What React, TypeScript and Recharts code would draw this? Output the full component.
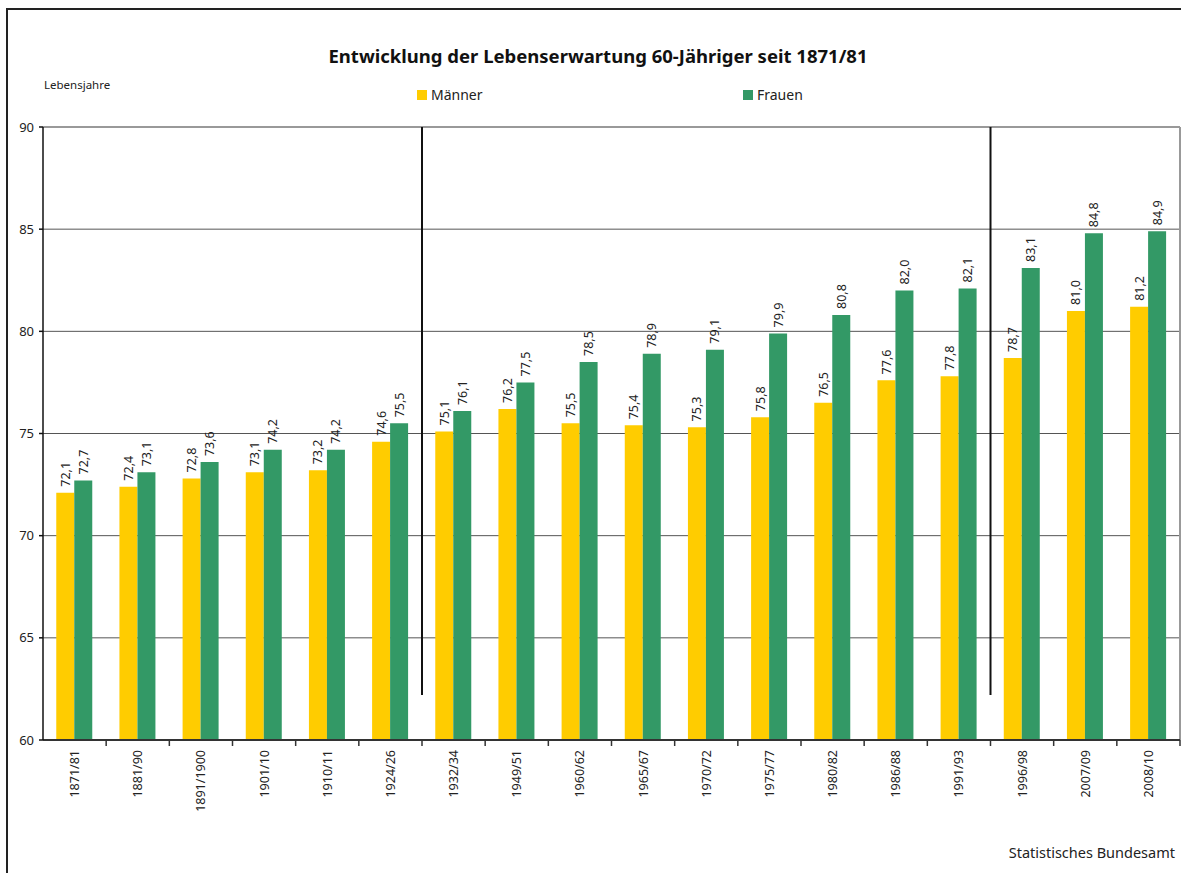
import React from 'react';
import { BarChart, Bar, XAxis, YAxis, CartesianGrid, ReferenceLine, LabelList } from 'recharts';

const categories = ['1871/81', '1881/90', '1891/1900', '1901/10', '1910/11', '1924/26', '1932/34', '1949/51', '1960/62', '1965/67', '1970/72', '1975/77', '1980/82', '1986/88', '1991/93', '1996/98', '2007/09', '2008/10'];
const maenner = [72.1, 72.4, 72.8, 73.1, 73.2, 74.6, 75.1, 76.2, 75.5, 75.4, 75.3, 75.8, 76.5, 77.6, 77.8, 78.7, 81.0, 81.2];
const frauen = [72.7, 73.1, 73.6, 74.2, 74.2, 75.5, 76.1, 77.5, 78.5, 78.9, 79.1, 79.9, 80.8, 82.0, 82.1, 83.1, 84.8, 84.9];
const yTicks = [60, 65, 70, 75, 80, 85, 90];
const dividers = ['1932/34', '1996/98'];

const data = categories.map((c, i) => ({ period: c, m: maenner[i], f: frauen[i] }));

const FONT = '"Noto Sans", "DejaVu Sans", sans-serif';
const YELLOW = '#FFCC00';
const GREEN = '#339966';

const fmt = (v: number) => v.toFixed(1).replace('.', ',');

const BarLabel = (props: any) => {
  const { x, y, width, value } = props;
  const cx = Number(x) + Number(width) / 2;
  const cy = Number(y) - 6;
  return (
    <text x={cx} y={cy} transform={`rotate(-90, ${cx}, ${cy})`} textAnchor="start" dominantBaseline="central" fontSize={12.5} fill="#222" fontFamily={FONT}>
      {fmt(Number(value))}
    </text>
  );
};

const XTick = (props: any) => {
  const { x, y, payload } = props;
  const off = payload && payload.offset ? payload.offset : 31.6;
  const tx = Number(x);
  const ty = Number(y) + 10;
  return (
    <g>
      <line x1={tx + off} y1={y} x2={tx + off} y2={Number(y) + 6} stroke="#333" strokeWidth={1.5} />
      <text x={tx} y={ty} transform={`rotate(-90, ${tx}, ${ty})`} textAnchor="end" dominantBaseline="central" fontSize={12.5} fill="#222" fontFamily={FONT}>
        {payload.value}
      </text>
    </g>
  );
};

export default function App() {
  return (
    <div style={{ position: 'absolute', left: 0, top: 0, width: 1181, height: 873, background: '#fff', overflow: 'hidden' }}>
      <div style={{ position: 'absolute', left: 6, top: 8, width: 1181, height: 873, borderLeft: '2px solid #222', borderTop: '2px solid #222' }} />
      <div style={{ position: 'absolute', left: 0, width: 1196, top: 43, textAlign: 'center', fontFamily: FONT, fontWeight: 700, fontSize: 18.5, color: '#111' }}>
        Entwicklung der Lebenserwartung 60-Jähriger seit 1871/81
      </div>
      <div style={{ position: 'absolute', left: 44, top: 77, fontFamily: FONT, fontSize: 11.5, color: '#222' }}>Lebensjahre</div>
      <div style={{ position: 'absolute', left: 0, top: 86, width: 1181, height: 20, fontFamily: FONT, fontSize: 14, color: '#222' }}>
        <div style={{ position: 'absolute', left: 417, top: 4, width: 10, height: 10, background: YELLOW }} />
        <div style={{ position: 'absolute', left: 431, top: -1 }}>Männer</div>
        <div style={{ position: 'absolute', left: 743, top: 4, width: 10, height: 10, background: GREEN }} />
        <div style={{ position: 'absolute', left: 757, top: -1 }}>Frauen</div>
      </div>
      <div style={{ position: 'absolute', right: 6, top: 842, fontFamily: FONT, fontSize: 14.5, color: '#222' }}>Statistisches Bundesamt</div>
      <BarChart
        width={1181}
        height={873}
        data={data}
        margin={{ top: 127, right: 1, bottom: 0, left: 0 }}
        barCategoryGap="21%"
        barGap={0}
        style={{ position: 'absolute', left: 0, top: 0 }}
      >
        <CartesianGrid vertical={false} stroke="#555" strokeWidth={1} />
        <XAxis
          dataKey="period"
          height={133}
          interval={0}
          tickSize={0}
          tickMargin={0}
          tickLine={false}
          tick={<XTick />}
          axisLine={{ stroke: '#333', strokeWidth: 2 }}
        />
        <YAxis
          width={43}
          domain={[60, 90]}
          ticks={yTicks}
          allowDataOverflow
          tickSize={4}
          tickMargin={5}
          tick={{ fontSize: 13, fill: '#222', fontFamily: FONT }}
          tickLine={{ stroke: '#111', strokeWidth: 1.5 }}
          axisLine={{ stroke: '#111', strokeWidth: 1.5 }}
        />
        <ReferenceLine y={90} stroke="#999" strokeWidth={2} />
        <ReferenceLine x="2008/10" position="end" stroke="#999" strokeWidth={2} />
        {dividers.map((d) => (
          <ReferenceLine
            key={d}
            position="start"
            segment={[{ x: d, y: 62.2 }, { x: d, y: 90 }]}
            stroke="#111"
            strokeWidth={2}
          />
        ))}
        <Bar dataKey="m" name="Männer" fill={YELLOW} isAnimationActive={false}>
          <LabelList dataKey="m" content={<BarLabel />} />
        </Bar>
        <Bar dataKey="f" name="Frauen" fill={GREEN} isAnimationActive={false}>
          <LabelList dataKey="f" content={<BarLabel />} />
        </Bar>
      </BarChart>
    </div>
  );
}
